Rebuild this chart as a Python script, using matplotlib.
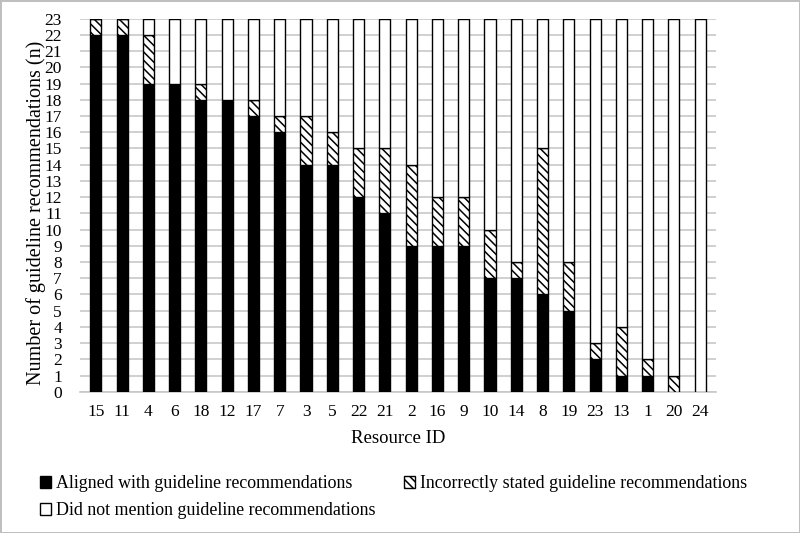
import numpy as np
import matplotlib.pyplot as plt

plt.rcParams['font.family'] = ['Liberation Serif', 'DejaVu Serif']
plt.rcParams['hatch.linewidth'] = 1.1

# data
resource_ids = ['15', '11', '4', '6', '18', '12', '17', '7', '3', '5', '22', '21',
                '2', '16', '9', '10', '14', '8', '19', '23', '13', '1', '20', '24']
aligned = [22, 22, 19, 19, 18, 18, 17, 16, 14, 14, 12, 11,
           9, 9, 9, 7, 7, 6, 5, 2, 1, 1, 0, 0]
incorrect = [1, 1, 3, 0, 1, 0, 1, 1, 3, 2, 3, 4,
             5, 3, 3, 3, 1, 9, 3, 1, 3, 1, 1, 0]
not_mentioned = [0, 0, 1, 4, 4, 5, 5, 6, 6, 7, 8, 8,
                 9, 11, 11, 13, 15, 8, 15, 20, 19, 21, 22, 23]

fig = plt.figure(figsize=(8, 5.33), dpi=100, edgecolor='#bfbfbf', linewidth=2)
ax = fig.add_axes([0.1, 0.265, 0.795, 0.7])

x = np.arange(len(resource_ids))
w = 0.42
a = np.array(aligned)
b = np.array(incorrect)
c = np.array(not_mentioned)

h1 = ax.bar(x, a, w, color='black', edgecolor='black', linewidth=1, zorder=3,
            label='Aligned with guideline recommendations')
h2 = ax.bar(x, b, w, bottom=a, color='white', edgecolor='black', hatch='\\\\\\\\',
            linewidth=1, zorder=3, label='Incorrectly stated guideline recommendations')
h3 = ax.bar(x, c, w, bottom=a + b, color='white', edgecolor='black', linewidth=1,
            zorder=3, label='Did not mention guideline recommendations')

ax.set_ylim(0, 23)
ax.set_xlim(-0.6, len(x) - 0.4)
ax.set_yticks(range(0, 24))
ax.set_xticks(x)
ax.set_xticklabels(resource_ids)
ax.tick_params(axis='both', length=0, labelsize=12.5)
ax.tick_params(axis='x', pad=9)
ax.tick_params(axis='y', pad=13)
ax.grid(axis='y', color='#c8c8c8', linewidth=1.2, zorder=0)
for s in ['top', 'right', 'left']:
    ax.spines[s].set_visible(False)
ax.spines['bottom'].set_color('#c8c8c8')
ax.spines['bottom'].set_linewidth(1.2)

ax.set_ylabel('Number of guideline recommendations (n)', fontsize=14.5)
ax.yaxis.set_label_coords(-0.054, 0.48)
ax.set_xlabel('Resource ID', fontsize=13.5, labelpad=7)

# column-wise fill: put items so rows read aligned / incorrect, then not mentioned
fig.legend([h1, h3, h2], [h1.get_label(), h3.get_label(), h2.get_label()],
           loc='upper left', bbox_to_anchor=(0.05, 0.108), bbox_transform=fig.transFigure,
           ncol=2, frameon=False, fontsize=12.9, handlelength=0.6, handleheight=0.6,
           handletextpad=0.3, columnspacing=1.6, labelspacing=0.55,
           borderpad=0, borderaxespad=0)

fig.savefig('out.png', dpi=100)
